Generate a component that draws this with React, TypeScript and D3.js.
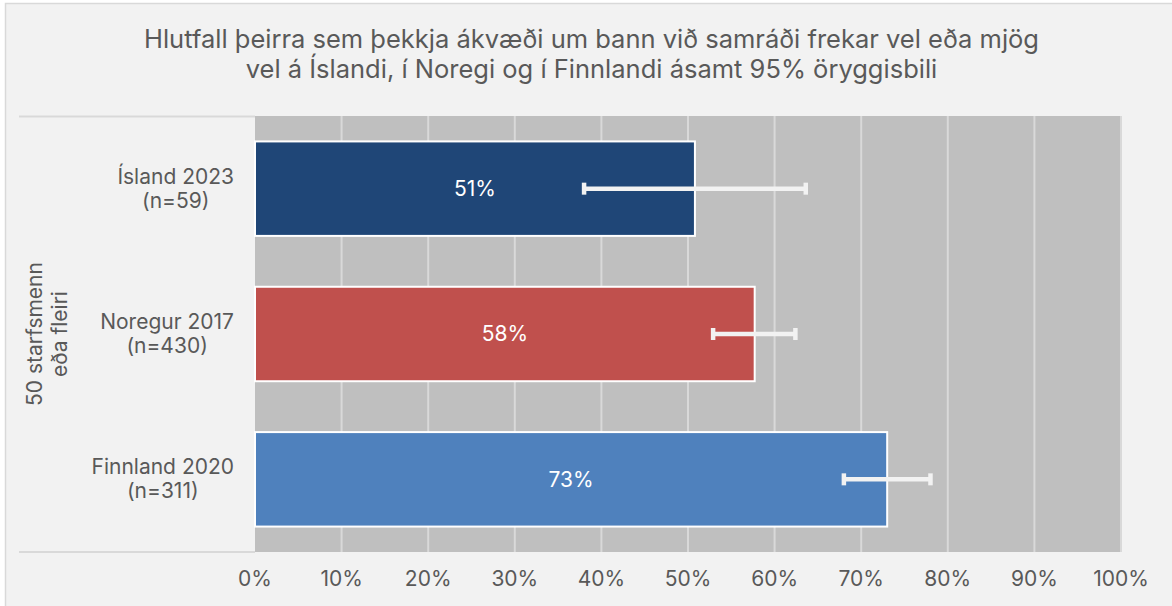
import React, { useLayoutEffect, useRef } from 'react'
import * as d3 from 'd3'

const titleLines = [
  'Hlutfall þeirra sem þekkja ákvæði um bann við samráði frekar vel eða mjög',
  'vel á Íslandi, í Noregi og í Finnlandi ásamt 95% öryggisbili',
]
const categories = ['Ísland 2023', 'Noregur 2017', 'Finnland 2020']
const sampleSizes = ['(n=59)', '(n=430)', '(n=311)']
const values = [0.508, 0.577, 0.73]
const lower = [0.38, 0.529, 0.68]
const upper = [0.636, 0.624, 0.78]
const valueLabels = ['51%', '58%', '73%']
const barColors = ['#1f4677', '#c0504d', '#4f81bd']
const groupLabel = ['50 starfsmenn', 'eða fleiri']
const ticks = [0, 0.1, 0.2, 0.3, 0.4, 0.5, 0.6, 0.7, 0.8, 0.9, 1]

const W = 1172
const H = 606
const font = 'Inter, "Noto Sans", sans-serif'
const textColor = '#595959'

export default function App() {
  const ref = useRef<SVGSVGElement | null>(null)
  const plot = { left: 255, right: 1121, top: 116, bottom: 552 }
  const x = d3.scaleLinear().domain([0, 1]).range([plot.left, plot.right])
  const y = d3
    .scaleBand<string>()
    .domain(categories)
    .range([plot.top, plot.bottom])
    .paddingInner(0.35)
    .paddingOuter(0.175)
  const fmt = d3.format('.0%')
  const labelRight = 234

  // category labels: centred block, right edge at labelRight
  useLayoutEffect(() => {
    if (!ref.current) return
    d3.select(ref.current)
      .selectAll<SVGTextElement, unknown>('text.cat')
      .each(function () {
        const el = this
        const tspans = Array.from(el.querySelectorAll('tspan'))
        const w = d3.max(tspans, (t) => (t as SVGTSpanElement).getComputedTextLength()) || 0
        const cx = labelRight - w / 2
        tspans.forEach((t) => t.setAttribute('x', String(cx)))
      })
  }, [])

  return (
    <svg
      ref={ref}
      width={W}
      height={H}
      style={{ position: 'absolute', left: 0, top: 0, display: 'block' }}
      fontFamily={font}
    >
      <rect x={0} y={0} width={W} height={H} fill="#ffffff" />
      <rect x={5.5} y={3.5} width={W + 10} height={H + 10} fill="#f2f2f2" stroke="#d9d9d9" strokeWidth={1.5} />

      {titleLines.map((t, i) => (
        <text key={i} x={591.5} y={48 + i * 30} textAnchor="middle" fontSize={25.5} fill={textColor}>
          {t}
        </text>
      ))}

      {/* plot background */}
      <rect x={plot.left} y={plot.top} width={plot.right - plot.left} height={plot.bottom - plot.top} fill="#bfbfbf" />
      {ticks.slice(1).map((t) => (
        <line key={t} x1={x(t)} x2={x(t)} y1={plot.top} y2={plot.bottom} stroke="#d9d9d9" strokeWidth={2} />
      ))}

      {/* category axis separators */}
      <line x1={19} x2={plot.left} y1={plot.top + 0.5} y2={plot.top + 0.5} stroke="#d9d9d9" strokeWidth={2} />
      <line x1={19} x2={plot.left} y1={plot.bottom} y2={plot.bottom} stroke="#d9d9d9" strokeWidth={2} />

      {categories.map((c, i) => {
        const y0 = y(c)!
        const bh = y.bandwidth()
        const cy = y0 + bh / 2
        return (
          <g key={c}>
            <rect
              x={x(0)}
              y={y0}
              width={x(values[i]) - x(0)}
              height={bh}
              fill={barColors[i]}
              stroke="#ffffff"
              strokeWidth={2}
            />
            <text x={(x(0) + x(values[i])) / 2} y={cy} dy="0.35em" textAnchor="middle" fontSize={21} fill="#ffffff">
              {valueLabels[i]}
            </text>
            <line x1={x(lower[i])} x2={x(upper[i])} y1={cy} y2={cy} stroke="#f2f2f2" strokeWidth={4.5} />
            <line x1={x(lower[i])} x2={x(lower[i])} y1={cy - 6} y2={cy + 6} stroke="#f2f2f2" strokeWidth={4.5} />
            <line x1={x(upper[i])} x2={x(upper[i])} y1={cy - 6} y2={cy + 6} stroke="#f2f2f2" strokeWidth={4.5} />
            <text className="cat" textAnchor="middle" fontSize={21} fill={textColor}>
              <tspan x={labelRight} y={cy - 5}>{c}</tspan>
              <tspan x={labelRight} y={cy + 19}>{sampleSizes[i]}</tspan>
            </text>
          </g>
        )
      })}

      <g transform={`translate(46, ${(plot.top + plot.bottom) / 2}) rotate(-90)`}>
        {groupLabel.map((t, i) => (
          <text key={i} x={0} y={-11 + i * 25} dy="0.35em" textAnchor="middle" fontSize={21} fill={textColor}>
            {t}
          </text>
        ))}
      </g>

      {ticks.map((t) => (
        <text key={t} x={x(t)} y={586} textAnchor="middle" fontSize={21} fill={textColor}>
          {fmt(t)}
        </text>
      ))}
    </svg>
  )
}
